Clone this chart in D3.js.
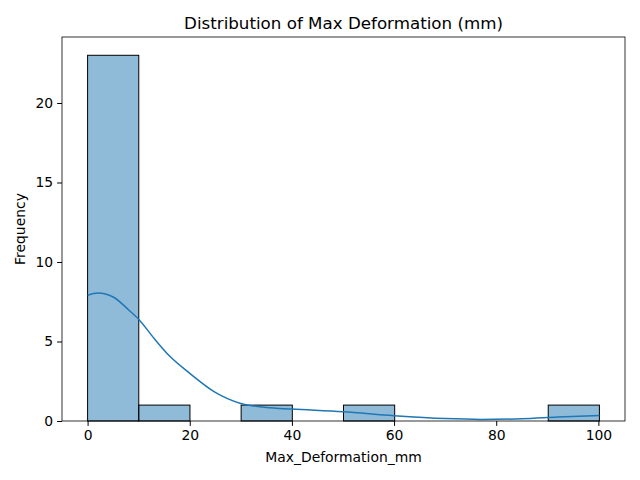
<!DOCTYPE html>
<html><head><meta charset="utf-8">
<script src="https://cdn.jsdelivr.net/npm/d3@7"></script>
<style>body{margin:0;background:#fff}text{font-family:"DejaVu Sans",sans-serif}</style>
</head><body><svg id="chart" width="640" height="480"></svg>
<script>
// histogram bins (edges) and counts
const binEdges = [0, 10.02, 20.04, 30.06, 40.08, 50.1, 60.12, 70.14, 80.16, 90.18, 100.2];
const counts = [23, 1, 0, 1, 0, 1, 0, 0, 0, 1];
// kde curve
const kdeX = [0, 2, 5, 8, 10, 13, 16, 20, 25, 30, 35, 40, 50, 60, 70, 77, 85, 92, 100.2];
const kdeY = [7.9, 8.05, 7.8, 7.0, 6.4, 5.2, 4.1, 3.0, 1.8, 1.1, 0.85, 0.75, 0.58, 0.33, 0.15, 0.1, 0.14, 0.25, 0.35];
const xTicks = [0, 20, 40, 60, 80, 100];
const yTicks = [0, 5, 10, 15, 20];

const margin = { top: 37, right: 15, bottom: 59, left: 62 };
const width = 640, height = 480;
const innerWidth = width - margin.left - margin.right;
const innerHeight = height - margin.top - margin.bottom;

const svg = d3.select("#chart");
const chart = svg.append("g").attr("transform", `translate(${margin.left}, ${margin.top})`);

const xscale = d3.scaleLinear().domain([-5.01, 105.21]).range([0, innerWidth]);
const yscale = d3.scaleLinear().domain([0, 23 * 1.05]).range([innerHeight, 0]);

chart.selectAll(".bar")
  .data(counts)
  .join("rect")
  .attr("x", (d, i) => xscale(binEdges[i]))
  .attr("y", (d) => yscale(d))
  .attr("width", (d, i) => xscale(binEdges[i + 1]) - xscale(binEdges[i]))
  .attr("height", (d) => innerHeight - yscale(d))
  .attr("fill", "rgba(31,119,180,0.5)")
  .attr("stroke", "black")
  .attr("stroke-width", 1);

const line = d3.line()
  .x((d, i) => xscale(kdeX[i]))
  .y((d) => yscale(d))
  .curve(d3.curveMonotoneX);
chart.append("path").attr("d", line(kdeY))
  .attr("fill", "none").attr("stroke", "#1f77b4").attr("stroke-width", 1.5);

const xaxis = chart.append("g").attr("transform", `translate(0, ${innerHeight})`)
  .call(d3.axisBottom(xscale).tickValues(xTicks).tickSize(4.9).tickPadding(4).tickSizeOuter(0));
const yaxis = chart.append("g")
  .call(d3.axisLeft(yscale).tickValues(yTicks).tickSize(4.9).tickPadding(4).tickSizeOuter(0));
[xaxis, yaxis].forEach((g) => {
  g.selectAll("text").style("font-size", "13.9px").attr("fill", "black");
  g.select(".domain").remove();
});
chart.append("rect").attr("width", innerWidth).attr("height", innerHeight)
  .attr("fill", "none").attr("stroke", "black").attr("stroke-width", 0.8);

svg.append("text").attr("x", margin.left + innerWidth / 2).attr("y", 29)
  .attr("text-anchor", "middle").style("font-size", "16.7px").text("Distribution of Max Deformation (mm)");
svg.append("text").attr("x", margin.left + innerWidth / 2).attr("y", 462)
  .attr("text-anchor", "middle").style("font-size", "13.9px").text("Max_Deformation_mm");
svg.append("text").attr("transform", `translate(25, ${margin.top + innerHeight / 2}) rotate(-90)`)
  .attr("text-anchor", "middle").style("font-size", "13.9px").text("Frequency");
</script></body></html>
